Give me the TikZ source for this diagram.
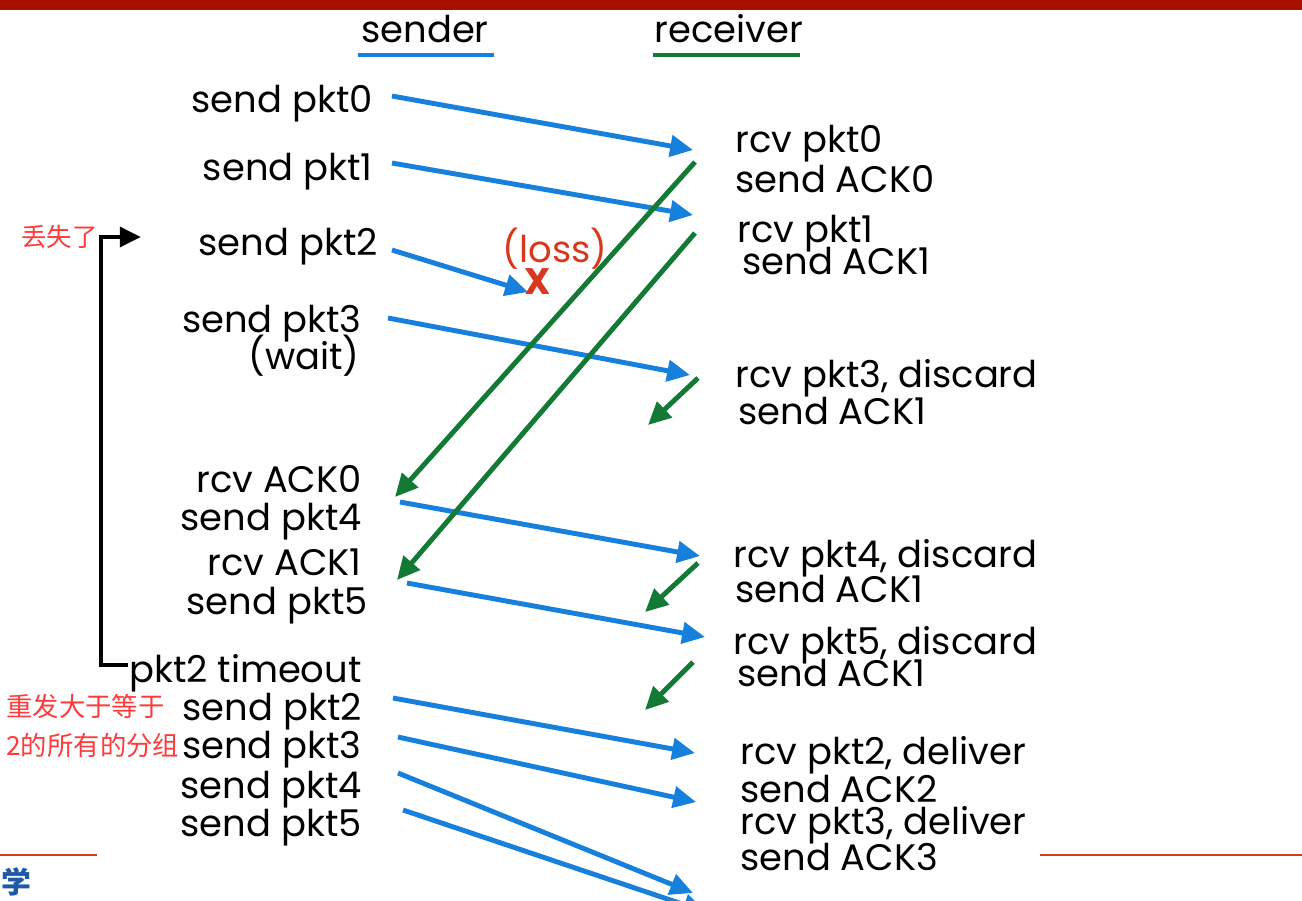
\documentclass[tikz,border=0pt]{standalone}
\usepackage{fontspec}
\setmainfont{Poppins}
\newfontfamily\cjk{Noto Sans CJK SC}
\usetikzlibrary{arrows.meta,calc}

\definecolor{barred}{RGB}{165,16,0}
\definecolor{pktblue}{RGB}{22,128,220}
\definecolor{ackgreen}{RGB}{18,122,52}
\definecolor{notered}{RGB}{255,58,58}
\definecolor{lossred}{RGB}{216,56,30}
\definecolor{logoblue}{RGB}{30,90,170}

\begin{document}
\begin{tikzpicture}[x=0.02cm, y=-0.02cm,
  lbl/.style={inner sep=0pt, yshift=-4pt, font=\fontsize{21}{24}\selectfont, text height=0.7em, text depth=0.12em},
  snd/.style={lbl, anchor=east},
  rcv/.style={lbl, anchor=west},
  note/.style={inner sep=0pt, text=notered, align=left},
  pkt/.style={draw=pktblue, line width=2.8pt, -{Triangle[length=13pt, width=12pt]}},
  ack/.style={draw=ackgreen, line width=2.8pt, -{Triangle[length=13pt, width=12pt]}},
  timer/.style={draw=black, line width=2.8pt, -{Triangle[length=12pt, width=11pt]}},
  hdr/.style={line width=2.8pt}]
\clip (0,0) rectangle (1302,901);
\fill[white] (0,0) rectangle (1302,901);
\fill[barred] (0,0) rectangle (1302,10);

% column headers
\node[lbl] (sender) at (425,30) {sender};
\node[lbl] (receiver) at (729,30) {receiver};
\draw[hdr, pktblue] (358,55) -- (494,55);
\draw[hdr, ackgreen] (653,55) -- (800,55);

% sender side
\node[snd] (s0) at (373,100) {send pkt0};
\node[snd] (s1) at (373,168) {send pkt1};
\node[snd] (s2) at (378,243) {send pkt2};
\node[snd] (s3) at (362,320) {send pkt3};
\node[snd] (w3) at (360,357) {(wait)};
\node[snd] (a0) at (362,480) {rcv ACK0};
\node[snd] (s4) at (362,518) {send pkt4};
\node[snd] (a1) at (362,563) {rcv ACK1};
\node[snd] (s5) at (368,602) {send pkt5};
\node[snd] (tout) at (362,670) {pkt2 timeout};
\node[snd] (b2) at (362,708) {send pkt2};
\node[snd] (b3) at (362,746) {send pkt3};
\node[snd] (b4) at (362,786) {send pkt4};
\node[snd] (b5) at (362,824) {send pkt5};

% receiver side
\node[rcv] (r0) at (735,140) {rcv pkt0};
\node[rcv] (k0) at (735,180) {send ACK0};
\node[rcv] (r1) at (737,230) {rcv pkt1};
\node[rcv] (k1) at (742,262) {send ACK1};
\node[rcv] (r3) at (735,375) {rcv pkt3, discard};
\node[rcv] (k3) at (738,412) {send ACK1};
\node[rcv] (r4) at (733,555) {rcv pkt4, discard};
\node[rcv] (k4) at (735,590) {send ACK1};
\node[rcv] (r5) at (733,642) {rcv pkt5, discard};
\node[rcv] (k5) at (737,674) {send ACK1};
\node[rcv] (d2) at (740,752) {rcv pkt2, deliver};
\node[rcv] (k6) at (740,790) {send ACK2};
\node[rcv] (d3) at (740,822) {rcv pkt3, deliver};
\node[rcv] (k7) at (740,858) {send ACK3};

% lost packet
\node[lbl, text=lossred] (loss) at (555,250) {(loss)};
\node[inner sep=0pt, text=lossred, font=\fontsize{21}{21}\bfseries\selectfont] (lossx) at (538,282) {X};

% packets
\draw[pkt] ($(s0.east)+(19,-11)$) -- ($(r0.west)+(-42,3)$);
\draw[pkt] ($(s1.east)+(19,-12)$) -- ($(r1.west)+(-44,-22)$);
\draw[pkt] ($(s2.east)+(14,0)$) -- ($(lossx)+(-10,10)$);
\draw[pkt] ($(s3.east)+(26,-9)$) -- ($(r3.west)+(-45,-7)$);
\draw[pkt] ($(s4.east)+(38,-23)$) -- ($(r4.west)+(-33,-6)$);
\draw[pkt] ($(s5.east)+(39,-26)$) -- ($(r5.west)+(-28,-12)$);
\draw[pkt] ($(b2.east)+(31,-17)$) -- ($(d2.west)+(-45,-6)$);
\draw[pkt] ($(b3.east)+(36,-16)$) -- ($(d3.west)+(-44,-27)$);
\coordinate (e4) at (693,893);
\coordinate (e5) at (706,912);
\draw[pkt] ($(b4.east)+(36,-20)$) -- (e4);
\draw[pkt] ($(b5.east)+(41,-21)$) -- (e5);

% acks
\draw[ack] ($(k0.west)+(-40,-25)$) -- ($(a0.east)+(33,10)$);
\draw[ack] ($(k1.west)+(-47,-36)$) -- ($(a1.east)+(35,10)$);
\draw[ack] ($(k3.west)+(-40,-41)$) -- ($(k3.west)+(-90,6)$);
\draw[ack] ($(k4.west)+(-37,-34)$) -- ($(k4.west)+(-90,15)$);
\draw[ack] ($(k5.west)+(-44,-19)$) -- ($(k5.west)+(-92,29)$);

% notes
\node[note, anchor=east, font=\cjk\fontsize{14.5}{14.5}\selectfont] (lost) at (98,237) {丢失了};
\node[note, anchor=west, font=\cjk\fontsize{15}{22}\selectfont] (resend) at (6,726) {重发大于等于\\2的所有的分组};

% timeout bracket
\draw[timer] ($(tout.west)+(-1,-12)$) -| ($(lost.east)+(3,0)$) -- ($(lost.east)+(43,0)$);

% slide trim
\draw[lossred, line width=1.2pt] (0,855) -- (97,855);
\draw[lossred, line width=1.2pt] (1040,855) -- (1302,855);
\node[inner sep=0pt, anchor=west, text=logoblue, font=\cjk\bfseries\fontsize{17}{17}\selectfont] (logo) at (1,882) {学};
\end{tikzpicture}
\end{document}
